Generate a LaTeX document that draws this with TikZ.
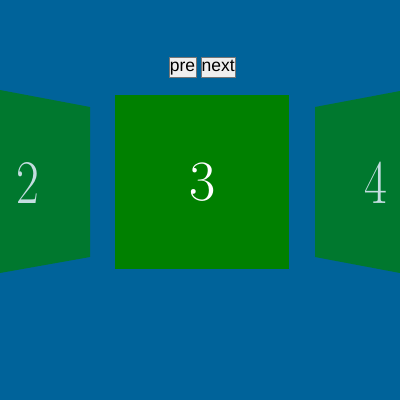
\documentclass[tikz,border=0pt]{standalone}
\usepackage{fontspec}
\usetikzlibrary{positioning}
\newfontfamily\btnfont{Liberation Sans}
\definecolor{bgblue}{HTML}{00639A}
\definecolor{sidegreen}{HTML}{00782E}
\definecolor{midgreen}{HTML}{008000}
\definecolor{sidetext}{HTML}{C4DDE0}
\definecolor{btnfill}{HTML}{EFEFEF}
\definecolor{btnline}{HTML}{767676}
\tikzset{
	btn/.style={draw=btnline, fill=btnfill, inner xsep=0.8pt, inner ysep=2pt, text height=12.5pt, text depth=3.5pt, font=\btnfont\fontsize{17.5}{18}\selectfont},
	sidenum/.style={text=sidetext, font=\fontsize{62}{62}\selectfont, xscale=0.8},
}
\begin{document}
\begin{tikzpicture}[x=1pt, y=-1pt]
			\fill[bgblue] (0,0) rectangle (400,400);
			\useasboundingbox (0,0) rectangle (400,400);
			% side panels
			\fill[sidegreen] (0,90)--(90,107)--(90,257)--(0,273)--cycle;
			\fill[sidegreen] (315,107)--(400,91)--(400,273)--(315,257)--cycle;
			% middle panel
			\fill[midgreen] (115,95) rectangle (289,269);
			\node[sidenum] (two) at (28,183) {2};
			\node[text=white, font=\fontsize{57}{57}\selectfont] (three) at (203,182) {3};
			\node[sidenum] (four) at (376,183) {4};
			% buttons
			\node[btn] (pre) at (182.5,67) {pre};
			\node[btn, right=4.5pt of pre] (next) {next};
		\end{tikzpicture}
\end{document}
